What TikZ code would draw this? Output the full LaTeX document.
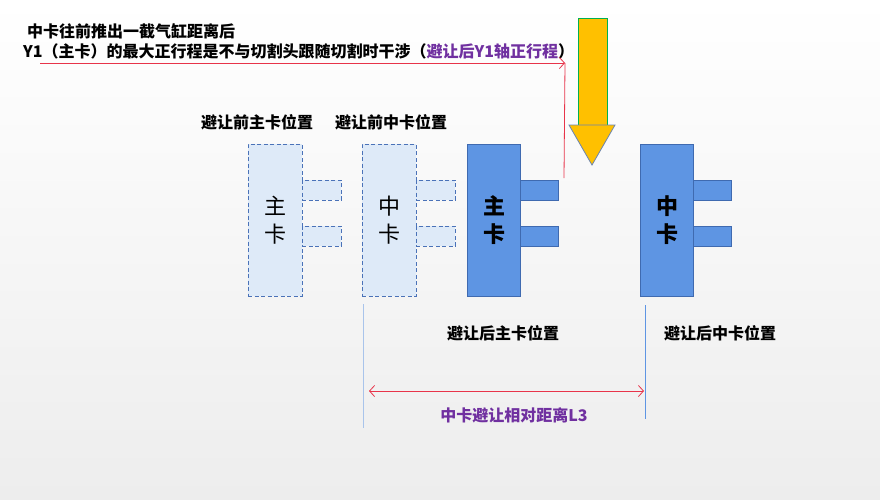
\documentclass[tikz,border=0pt]{standalone}
\usepackage{fontspec}
\setmainfont{Noto Sans CJK SC}
\usepackage{xcolor}
\definecolor{card-fill}{HTML}{5E95E3}
\definecolor{card-line}{HTML}{3F6AB0}
\definecolor{ghost-fill}{HTML}{DEEAF8}
\definecolor{ghost-line}{HTML}{4A72B8}
\definecolor{cutter-gold}{HTML}{FFC000}
\definecolor{cutter-green}{HTML}{00B050}
\definecolor{cutter-edge}{HTML}{6A84B0}
\definecolor{note-purple}{HTML}{7030A0}
\definecolor{guide-red}{HTML}{E8344A}
\definecolor{guide-blue}{HTML}{A9C4EB}
\definecolor{bg-grey}{HTML}{EDEDED}
\usetikzlibrary{arrows.meta}

\tikzset{
    ghostbody/.style={draw=ghost-line, fill=ghost-fill, dash pattern=on 4pt off 2.5pt, line width=0.8pt,
        inner sep=0pt, minimum width=54pt, minimum height=152pt, align=center,
        font=\fontsize{22}{28}\selectfont},
    ghosttab/.style={draw=ghost-line, fill=ghost-fill, dash pattern=on 4pt off 2.5pt, line width=0.8pt,
        inner sep=0pt, minimum width=39pt, minimum height=20pt, anchor=west},
    cardbody/.style={draw=card-line, fill=card-fill, line width=0.8pt,
        inner sep=0pt, minimum width=53pt, minimum height=152pt, align=center,
        font=\fontsize{22}{28}\selectfont\bfseries},
    cardtab/.style={draw=card-line, fill=card-fill, line width=0.8pt,
        inner sep=0pt, minimum width=38pt, minimum height=20pt, anchor=west},
    caption/.style={font=\fontsize{16}{19}\selectfont\bfseries, inner sep=0pt},
    barb/.tip={Straight Barb[length=5pt, width=11pt]}
}

\begin{document}
\begin{tikzpicture}[x=1pt, y=-1pt]

    % Background
    \shade[top color=white, bottom color=bg-grey] (0, 0) rectangle (880, 499);
    \useasboundingbox (0, 0) rectangle (880, 499);

    % Note
    \node[caption, anchor=west] (noteA) at (27, 31) {中卡往前推出一截气缸距离后};
    \node[caption, anchor=west] (noteB) at (23, 51)
        {Y1（主卡）的最大正行程是不与切割头跟随切割时干涉（\textcolor{note-purple}{避让后Y1轴正行程}）};

    % Cutter head
    \fill[cutter-gold] (578, 18) rectangle (607, 125);
    \draw[cutter-green, line width=0.8pt] (578, 125) -- (578, 18) -- (607, 18) -- (607, 125);
    \filldraw[fill=cutter-gold, draw=cutter-edge, line width=0.8pt] (569, 125) -- (615, 125) -- (592, 165) -- cycle;

    % Before
    \node[caption] (zhuOldLabel) at (257, 122) {避让前主卡位置};
    \node[caption] (zhongOldLabel) at (391, 122) {避让前中卡位置};
    \node[ghostbody] (zhuOld) at (275, 220) {主\\卡};
    \node[ghosttab] (zhuOldTabA) at (302, 190) {};
    \node[ghosttab] (zhuOldTabB) at (302, 236) {};
    \node[ghostbody] (zhongOld) at (389, 220) {中\\卡};
    \node[ghosttab] (zhongOldTabA) at (416, 190) {};
    \node[ghosttab] (zhongOldTabB) at (416, 236) {};

    % After
    \node[cardbody] (zhuNew) at (494, 220) {主\\卡};
    \node[cardtab] (zhuNewTabA) at (520, 190) {};
    \node[cardtab] (zhuNewTabB) at (520, 236) {};
    \node[cardbody] (zhongNew) at (667, 220) {中\\卡};
    \node[cardtab] (zhongNewTabA) at (693, 190) {};
    \node[cardtab] (zhongNewTabB) at (693, 236) {};
    \node[caption] (zhuNewLabel) at (503, 333) {避让后主卡位置};
    \node[caption] (zhongNewLabel) at (720, 333) {避让后中卡位置};

    % Travel limit
    \coordinate (limitStart) at (40, 63);
    \coordinate (limitTurn) at (565, 63);
    \coordinate (limitFoot) at (564, 178);
    \draw[guide-red, line width=0.8pt, -barb] (limitStart) -- (limitTurn);
    \draw[guide-red, line width=0.8pt] (limitTurn) -- (limitFoot);

    % Relative distance
    \coordinate (leftTop) at (363, 304);
    \coordinate (leftBottom) at (363, 428);
    \coordinate (rightTop) at (645, 305);
    \coordinate (rightBottom) at (645, 419);
    \draw[guide-blue, line width=1pt] (leftTop) -- (leftBottom);
    \draw[card-fill, line width=1pt] (rightTop) -- (rightBottom);
    \coordinate (spanLeft) at (369, 391);
    \coordinate (spanRight) at (644, 391);
    \draw[guide-red, line width=0.8pt, barb-barb] (spanLeft) -- (spanRight);
    \node[caption, text=note-purple] (spanLabel) at (514, 415) {中卡避让相对距离L3};

\end{tikzpicture}
\end{document}
